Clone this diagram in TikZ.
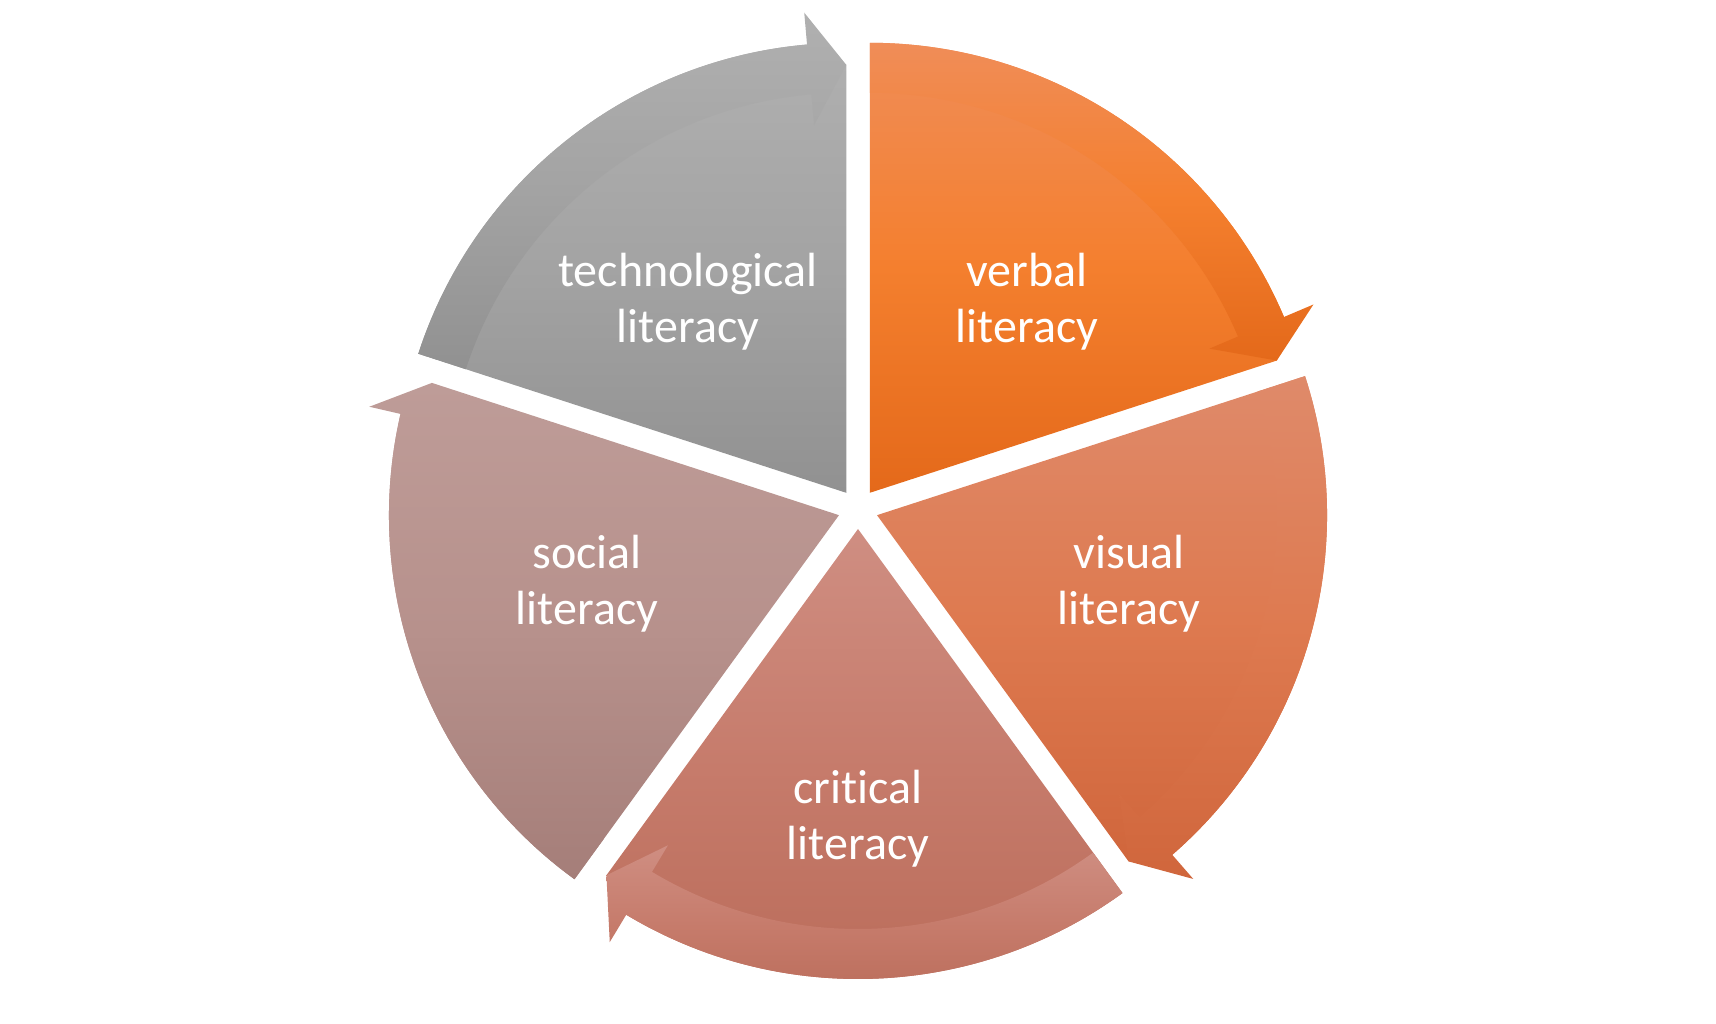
\documentclass[tikz,border=0pt]{standalone}
\usepackage{fontspec}
\setmainfont{Carlito}[Ligatures={NoCommon}]
\usetikzlibrary{arrows}
\definecolor{techtop}{RGB}{176,176,176}
\definecolor{techmid}{RGB}{163,163,163}
\definecolor{techbot}{RGB}{145,145,145}
\definecolor{verbtop}{RGB}{240,141,88}
\definecolor{verbmid}{RGB}{244,127,46}
\definecolor{verbbot}{RGB}{228,105,26}
\definecolor{vistop}{RGB}{223,138,106}
\definecolor{vismid}{RGB}{222,122,80}
\definecolor{visbot}{RGB}{208,102,60}
\definecolor{crittop}{RGB}{207,142,130}
\definecolor{critmid}{RGB}{198,123,107}
\definecolor{critbot}{RGB}{185,107,89}
\definecolor{soctop}{RGB}{190,156,152}
\definecolor{socmid}{RGB}{183,145,140}
\definecolor{socbot}{RGB}{165,126,121}
\tikzset{seglabel/.style={text=white, align=center, font=\fontsize{48}{56}\selectfont}}

\begin{document}
\begin{tikzpicture}[y=1pt, x=1pt, inner sep=0pt, outer sep=0pt]
\useasboundingbox (0,0) rectangle (1716,1024);

% segments and their arrows
\foreach \b/\col in {54/verb, -18/vis, -90/crit, -162/soc, 126/tech} {
  \pgfmathsetmacro\s{\b+36}
  \pgfmathsetmacro\e{\b-36}
  \pgfmathsetmacro\h{\b-31}
  \begin{scope}[shift={(858,515)}, shift={(\b:20)}]
    % wedge
    \shade[top color=\col top, bottom color=\col bot, middle color=\col mid]
      (0,0) -- (\s:450) arc[start angle=\s, end angle=\h, radius=450]
      -- (\e:428) -- cycle;
    % arrow
    \shade[top color=\col top, bottom color=\col bot, middle color=\col mid]
      (\s:450) arc[start angle=\s, end angle=\h, radius=450] -- (\h:482)
      -- (\e:428) -- (\h:369) -- (\h:400)
      arc[start angle=\h, end angle=\s, radius=400] -- cycle;
  \end{scope}
}

% labels
\node[seglabel] (tech) at (688,722) {technological\\literacy};
\node[seglabel] (verb) at (1027,722) {verbal\\literacy};
\node[seglabel] (vis)  at (1129,440) {visual\\literacy};
\node[seglabel] (crit) at (858,205)  {critical\\literacy};
\node[seglabel] (soc)  at (587,440)  {social\\literacy};

\end{tikzpicture}
\end{document}
